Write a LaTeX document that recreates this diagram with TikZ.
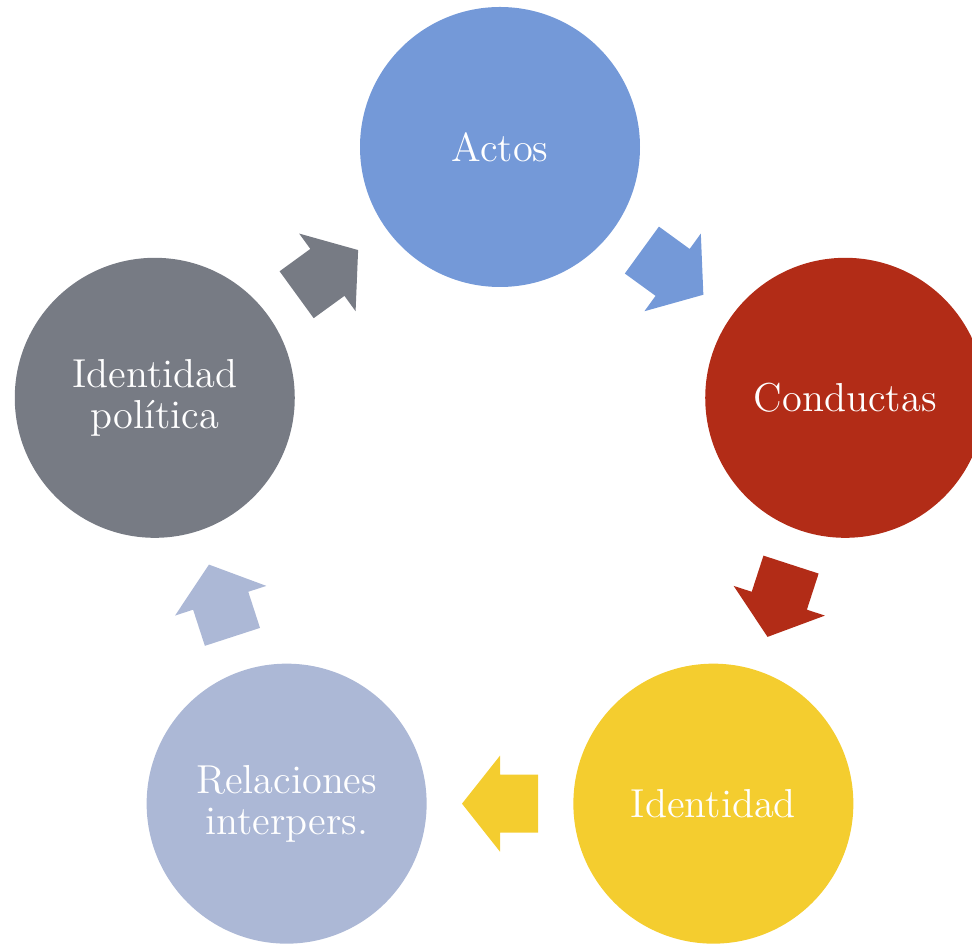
\documentclass[tikz,border=0pt]{standalone}
\usepackage{tikz}
\usetikzlibrary{calc}
\definecolor{actosblue}{RGB}{116,153,216}
\definecolor{condred}{RGB}{178,44,23}
\definecolor{identyellow}{RGB}{244,205,47}
\definecolor{relblue}{RGB}{172,184,214}
\definecolor{polgray}{RGB}{119,123,132}
\tikzset{
	ciclo/.style={circle, minimum size=2.8cm, inner sep=0pt, text=white, align=center, font=\fontsize{11.5}{11.7}\selectfont},
	flecha/.pic={\fill[pic actions] (-0.38,0.29) -- (0,0.29) -- (0,0.48) -- (0.38,0) -- (0,-0.48) -- (0,-0.29) -- (-0.38,-0.29) -- cycle;}
}

\begin{document}
\begin{tikzpicture}
		\useasboundingbox (0,0) rectangle (9.72,-9.45);
		\coordinate (m) at (5.00,-5.10);
		\node[ciclo, fill=actosblue] (actos) at ($(m)+(90:3.63)$) {Actos};
		\node[ciclo, fill=condred] (conductas) at ($(m)+(18:3.63)$) {Conductas};
		\node[ciclo, fill=identyellow] (identidad) at ($(m)+(-54:3.63)$) {Identidad};
		\node[ciclo, fill=relblue] (relaciones) at ($(m)+(-126:3.63)$) {Relaciones\\interpers.};
		\node[ciclo, fill=polgray] (politica) at ($(m)+(162:3.63)$) {Identidad\\política};
		% flechas del ciclo
		\path (actos) -- pic[sloped, allow upside down, fill=actosblue] {flecha} (conductas);
		\path (conductas) -- pic[sloped, allow upside down, fill=condred] {flecha} (identidad);
		\path (identidad) -- pic[sloped, allow upside down, fill=identyellow] {flecha} (relaciones);
		\path (relaciones) -- pic[sloped, allow upside down, fill=relblue] {flecha} (politica);
		\path (politica) -- pic[sloped, allow upside down, fill=polgray] {flecha} (actos);
	\end{tikzpicture}
\end{document}
